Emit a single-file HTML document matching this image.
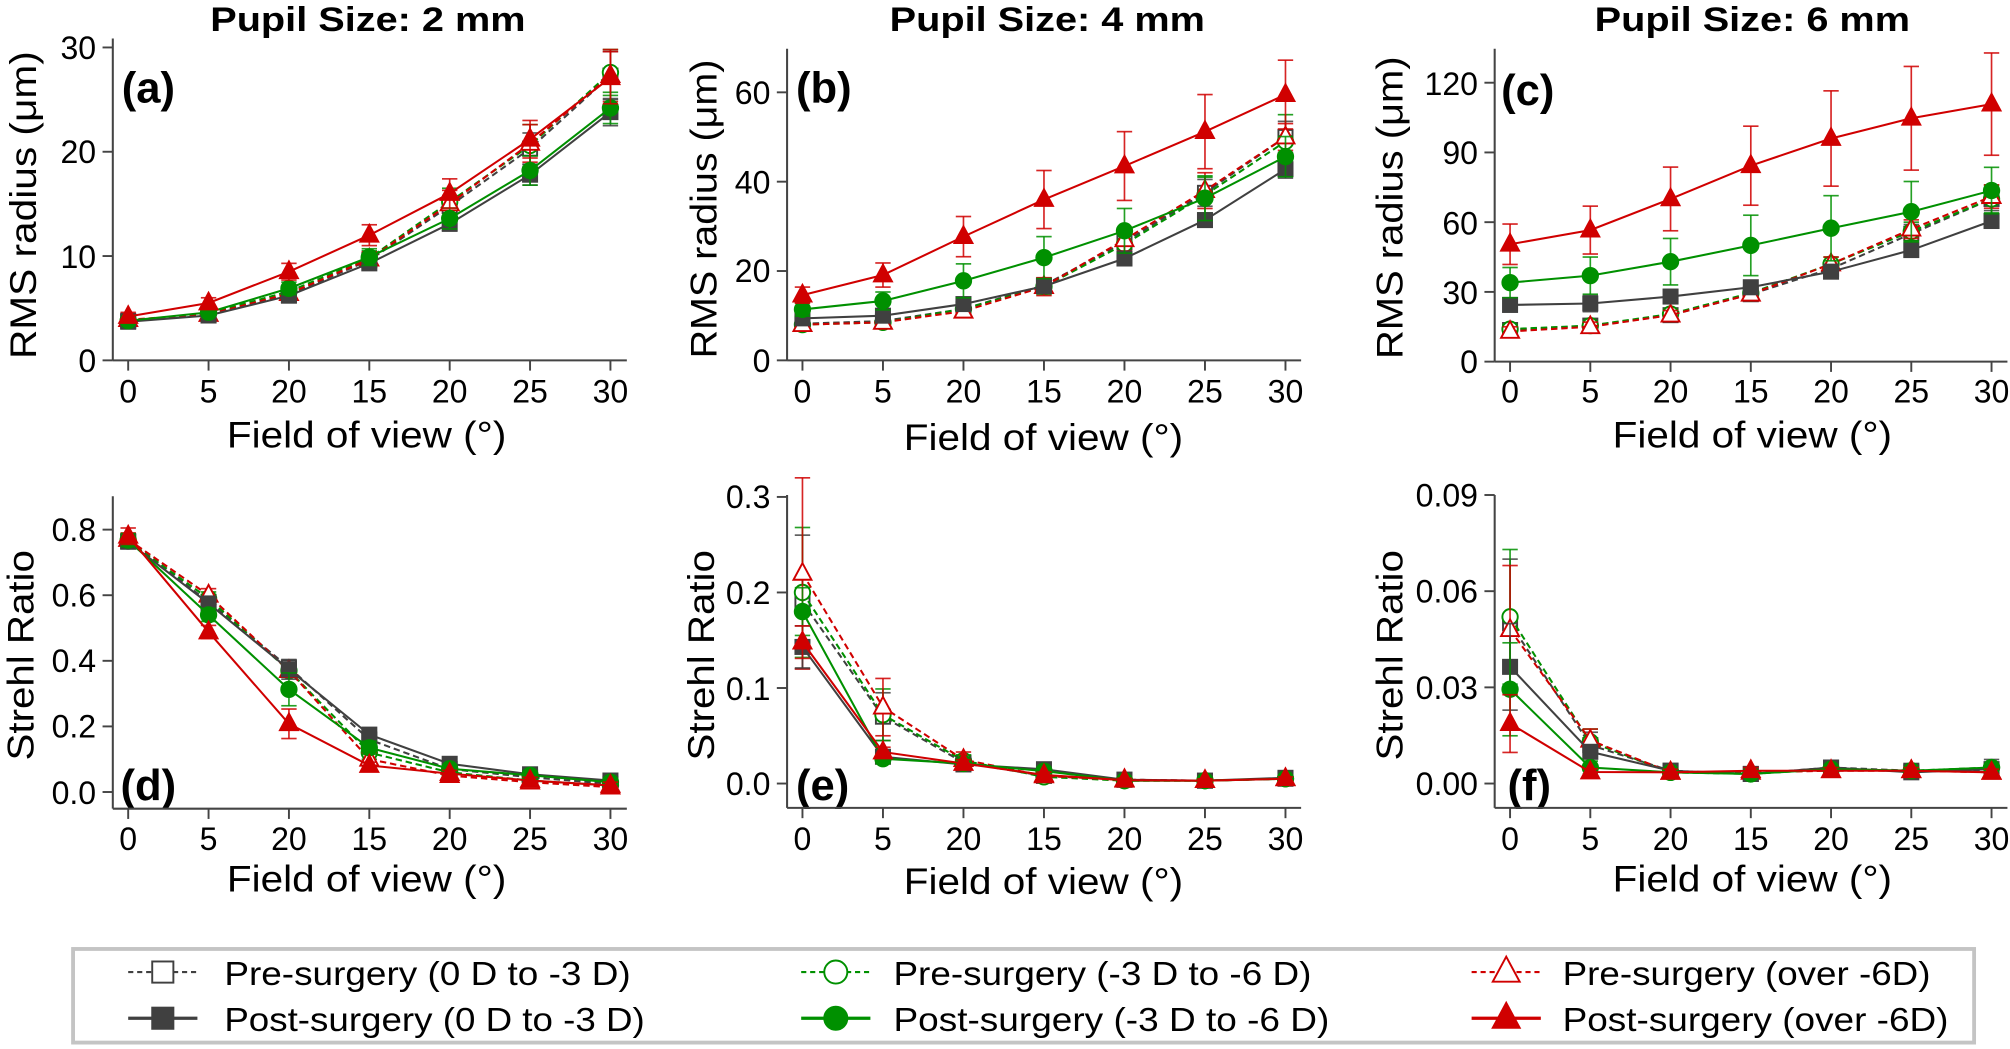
<!DOCTYPE html>
<html><head><meta charset="utf-8"><style>
html,body{margin:0;padding:0;background:#fff;}
svg{display:block;}
text{font-family:"Liberation Sans",Arial,sans-serif;fill:#000;}
</style></head><body>
<svg id="s" xmlns="http://www.w3.org/2000/svg" width="2010" height="1049" viewBox="0 0 1568 818" preserveAspectRatio="none">
<g font-weight="bold" font-size="27">
<text x="287" y="24" text-anchor="middle" textLength="246" lengthAdjust="spacingAndGlyphs">Pupil Size: 2 mm</text>
<text x="817" y="24" text-anchor="middle" textLength="246" lengthAdjust="spacingAndGlyphs">Pupil Size: 4 mm</text>
<text x="1367" y="24" text-anchor="middle" textLength="246" lengthAdjust="spacingAndGlyphs">Pupil Size: 6 mm</text>
</g>
<g font-weight="bold" font-size="34">
<text x="95" y="80">(a)</text>
<text x="621" y="80">(b)</text>
<text x="1171" y="82">(c)</text>
<text x="94" y="624">(d)</text>
<text x="621" y="624">(e)</text>
<text x="1176" y="624">(f)</text>
</g>
<g font-size="29">
<text x="286" y="349" text-anchor="middle" textLength="218" lengthAdjust="spacingAndGlyphs">Field of view (°)</text>
<text x="814" y="351" text-anchor="middle" textLength="218" lengthAdjust="spacingAndGlyphs">Field of view (°)</text>
<text x="1367" y="349" text-anchor="middle" textLength="218" lengthAdjust="spacingAndGlyphs">Field of view (°)</text>
<text x="286" y="695" text-anchor="middle" textLength="218" lengthAdjust="spacingAndGlyphs">Field of view (°)</text>
<text x="814" y="697" text-anchor="middle" textLength="218" lengthAdjust="spacingAndGlyphs">Field of view (°)</text>
<text x="1367" y="695" text-anchor="middle" textLength="218" lengthAdjust="spacingAndGlyphs">Field of view (°)</text>
<text transform="translate(28,160) rotate(-90)" text-anchor="middle" textLength="240" lengthAdjust="spacingAndGlyphs">RMS radius (μm)</text>
<text transform="translate(559,163) rotate(-90)" text-anchor="middle" textLength="233" lengthAdjust="spacingAndGlyphs">RMS radius (μm)</text>
<text transform="translate(1094,162) rotate(-90)" text-anchor="middle" textLength="236" lengthAdjust="spacingAndGlyphs">RMS radius (μm)</text>
<text transform="translate(26,511) rotate(-90)" text-anchor="middle" textLength="164" lengthAdjust="spacingAndGlyphs">Strehl Ratio</text>
<text transform="translate(557,511) rotate(-90)" text-anchor="middle" textLength="164" lengthAdjust="spacingAndGlyphs">Strehl Ratio</text>
<text transform="translate(1094,511) rotate(-90)" text-anchor="middle" textLength="164" lengthAdjust="spacingAndGlyphs">Strehl Ratio</text>
</g>
<g font-size="25" text-anchor="end">
<text x="75" y="46">30</text><text x="75" y="127">20</text><text x="75" y="209">10</text><text x="75" y="290">0</text>
<text x="601" y="81">60</text><text x="601" y="151">40</text><text x="601" y="220">20</text><text x="601" y="290">0</text>
<text x="1153" y="74">120</text><text x="1153" y="128">90</text><text x="1153" y="183">60</text><text x="1153" y="237">30</text><text x="1153" y="291">0</text>
<text x="75" y="422">0.8</text><text x="75" y="473">0.6</text><text x="75" y="524">0.4</text><text x="75" y="575">0.2</text><text x="75" y="627">0.0</text>
<text x="601" y="396">0.3</text><text x="601" y="471">0.2</text><text x="601" y="546">0.1</text><text x="601" y="620">0.0</text>
<text x="1153" y="395">0.09</text><text x="1153" y="470">0.06</text><text x="1153" y="545">0.03</text><text x="1153" y="620">0.00</text>
</g>
<g font-size="25" text-anchor="middle">
<g transform="translate(100,314)"><text x="0">0</text><text x="62.7">5</text><text x="125.4">20</text><text x="188.1">15</text><text x="250.8">20</text><text x="313.5">25</text><text x="376.2">30</text></g>
<g transform="translate(626,314)"><text x="0">0</text><text x="62.8">5</text><text x="125.6">20</text><text x="188.4">15</text><text x="251.2">20</text><text x="314">25</text><text x="376.8">30</text></g>
<g transform="translate(1178,314)"><text x="0">0</text><text x="62.6">5</text><text x="125.2">20</text><text x="187.8">15</text><text x="250.4">20</text><text x="313">25</text><text x="375.6">30</text></g>
<g transform="translate(100,663)"><text x="0">0</text><text x="62.7">5</text><text x="125.4">20</text><text x="188.1">15</text><text x="250.8">20</text><text x="313.5">25</text><text x="376.2">30</text></g>
<g transform="translate(626,663)"><text x="0">0</text><text x="62.8">5</text><text x="125.6">20</text><text x="188.4">15</text><text x="251.2">20</text><text x="314">25</text><text x="376.8">30</text></g>
<g transform="translate(1178,663)"><text x="0">0</text><text x="62.6">5</text><text x="125.2">20</text><text x="187.8">15</text><text x="250.4">20</text><text x="313">25</text><text x="375.6">30</text></g>
</g>
<rect x="57" y="740" width="1483" height="73" fill="none" stroke="#c4c4c4" stroke-width="3"/>
<g font-size="26">
<text x="175" y="768" textLength="317" lengthAdjust="spacingAndGlyphs">Pre-surgery (0 D to -3 D)</text>
<text x="175" y="804" textLength="328" lengthAdjust="spacingAndGlyphs">Post-surgery (0 D to -3 D)</text>
<text x="697" y="768" textLength="326" lengthAdjust="spacingAndGlyphs">Pre-surgery (-3 D to -6 D)</text>
<text x="697" y="804" textLength="340" lengthAdjust="spacingAndGlyphs">Post-surgery (-3 D to -6 D)</text>
<text x="1219" y="768" textLength="287" lengthAdjust="spacingAndGlyphs">Pre-surgery (over -6D)</text>
<text x="1219" y="804" textLength="301" lengthAdjust="spacingAndGlyphs">Post-surgery (over -6D)</text>
</g>
<g id="g"></g>
</svg>
<script>
var NS="http://www.w3.org/2000/svg",G=document.getElementById("g");
function el(n,a){var e=document.createElementNS(NS,n);for(var k in a)e.setAttribute(k,a[k]);G.appendChild(e);return e;}
var GR="#404040",GN="#009000",RD="#d00000";
function marker(m,x,y,c,f,s){s=s||1;var fill=f?c:"#fff";
 if(m=="sq")el("rect",{x:x-5.5*s,y:y-5.5*s,width:11*s,height:11*s,fill:fill,stroke:c,"stroke-width":1.5});
 else if(m=="ci")el("circle",{cx:x,cy:y,r:6*s,fill:fill,stroke:c,"stroke-width":1.5});
 else el("polygon",{points:(x)+","+(y-8*s)+" "+(x-7*s)+","+(y+5*s)+" "+(x+7*s)+","+(y+5*s),fill:fill,stroke:c,"stroke-width":1.5});}
var P=[
{ax:88,x0:100,st:62.7,yb:281,top:30,right:489,y0:281,k:244/30,ticks:[0,10,20,30],S:[
[GR,1,"sq",[3.8,4.4,6.3,9.6,14.8,20.3,27.3],[.3,.3,.4,.6,1,1.5,2.3]],
[GN,1,"ci",[3.8,4.5,6.6,9.8,15.2,20.6,27.6],[.3,.3,.5,.7,1.3,2,2.2]],
[RD,1,"tr",[3.9,4.4,6.4,9.7,15,20.8,27.3],[.3,.3,.5,.7,1.3,1.8,2.5]],
[GR,0,"sq",[3.7,4.3,6.2,9.3,13.1,17.8,23.8],[.2,.3,.4,.5,.7,1,1.3]],
[GN,0,"ci",[3.8,4.6,6.9,9.9,13.6,18.2,24.2],[.3,.3,.6,.8,1,1.4,1.5]],
[RD,0,"tr",[4.2,5.5,8.5,12,16,21.2,27.1],[.4,.5,.8,1,1.4,1.8,2.5]]]},
{ax:614,x0:626,st:62.8,yb:281,top:38,right:1015,y0:281,k:209/60,ticks:[0,20,40,60],S:[
[GR,1,"sq",[8.2,8.8,11.5,16.8,26.5,37.5,50],[1,1,1,1.5,2,3,3.5]],
[GN,1,"ci",[8,8.5,11.5,16.5,26,37,49],[1,1,1.2,1.8,2.5,4,6]],
[RD,1,"tr",[8,8.5,11,16.5,27,38,50],[1,1,1,2,2.5,4,3]],
[GR,0,"sq",[9.4,10,12.6,16.6,22.8,31.4,42.8],[1,1,1,1.2,1.5,1.5,2]],
[GN,0,"ci",[11.4,13.3,17.8,23,29,36.3,45.6],[1.5,2,3.8,4.7,5,5,4.5]],
[RD,0,"tr",[14.6,19.1,27.7,36,43.5,51.2,59.5],[1.8,2.7,4.5,6.5,7.7,8.3,7.7]]]},
{ax:1166,x0:1178,st:62.6,yb:282,top:38,right:1566,y0:282,k:217.5/120,ticks:[0,30,60,90,120],S:[
[GR,1,"sq",[13.6,15.5,20,29,40,55,70],[2,2,2,2,3,4,5]],
[GN,1,"ci",[14,15.5,20.5,29.5,42,56,70],[2,2,2,2.5,3,4,6]],
[RD,1,"tr",[13,15,20,29,42,57,71],[2,2,2,2.5,3,4,5]],
[GR,0,"sq",[24.4,25,28,32,38.7,48,60.5],[3,3.5,3,3,3,3,2.5]],
[GN,0,"ci",[34,37,43,50,57.4,64.5,73.6],[6.5,8,10,13,14,13,10]],
[RD,0,"tr",[50.5,56.6,70,84.3,96,104.7,110.8],[8.7,10.3,13.7,17,20.5,22.3,22]]]},
{ax:88,x0:100,st:62.7,yb:630.6,top:387,right:489,y0:617.6,k:255.75,ticks:[0,.2,.4,.6,.8],S:[
[GR,1,"sq",[.765,.58,.38,.16,.07,.045,.025],[.02,.02,.02,.02,.01,.01,.01]],
[GN,1,"ci",[.765,.59,.37,.12,.06,.035,.02],[.02,.02,.02,.02,.01,.01,.01]],
[RD,1,"tr",[.77,.6,.37,.1,.05,.03,.015],[.02,.02,.02,.02,.01,.01,.01]],
[GR,0,"sq",[.763,.575,.374,.175,.086,.054,.035],[.02,.02,.03,.02,.01,.01,.01]],
[GN,0,"ci",[.768,.54,.313,.135,.071,.051,.03],[.02,.02,.05,.02,.01,.01,.01]],
[RD,0,"tr",[.78,.488,.208,.081,.056,.035,.02],[.025,.02,.045,.01,.01,.01,.01]]]},
{ax:614,x0:626,st:62.8,yb:630,top:386,right:1015,y0:611,k:745,ticks:[0,.1,.2,.3],S:[
[GR,1,"sq",[.19,.07,.022,.008,.004,.003,.005],[.07,.025,.005,.003,.002,.002,.002]],
[GN,1,"ci",[.2,.072,.024,.007,.003,.003,.005],[.068,.027,.006,.003,.002,.002,.002]],
[RD,1,"tr",[.22,.08,.025,.008,.004,.003,.005],[.1,.03,.008,.003,.002,.002,.002]],
[GR,0,"sq",[.143,.028,.02,.015,.004,.003,.006],[.022,.005,.004,.003,.002,.002,.002]],
[GN,0,"ci",[.18,.026,.021,.013,.003,.003,.005],[.025,.005,.004,.003,.002,.002,.002]],
[RD,0,"tr",[.148,.033,.021,.009,.0035,.003,.005],[.017,.005,.004,.003,.002,.002,.002]]]},
{ax:1166,x0:1178,st:62.6,yb:630,top:386,right:1566,y0:611,k:2500,ticks:[0,.03,.06,.09],S:[
[GR,1,"sq",[.05,.012,.004,.003,.005,.004,.004],[.02,.004,.001,.001,.001,.001,.001]],
[GN,1,"ci",[.052,.013,.0035,.003,.0045,.004,.005],[.021,.004,.001,.001,.001,.001,.001]],
[RD,1,"tr",[.048,.0135,.0035,.0035,.004,.004,.0035],[.02,.0035,.001,.001,.001,.001,.001]],
[GR,0,"sq",[.0364,.0099,.004,.003,.005,.0035,.0045],[.0135,.002,.001,.001,.001,.001,.003]],
[GN,0,"ci",[.0294,.005,.0035,.003,.0045,.004,.005],[.0145,.002,.001,.001,.001,.001,.001]],
[RD,0,"tr",[.0187,.0036,.0035,.004,.004,.004,.0035],[.009,.001,.001,.001,.001,.001,.001]]]}];
P.forEach(function(p){
 el("line",{x1:p.ax,y1:p.top,x2:p.ax,y2:p.yb,stroke:"#444","stroke-width":1.6});
 el("line",{x1:p.ax,y1:p.yb,x2:p.right,y2:p.yb,stroke:"#444","stroke-width":1.6});
 p.ticks.forEach(function(t){var y=p.y0-t*p.k;el("line",{x1:p.ax-8,y1:y,x2:p.ax,y2:y,stroke:"#444","stroke-width":1.5});});
 for(var i=0;i<7;i++){var x=p.x0+i*p.st;el("line",{x1:x,y1:p.yb,x2:x,y2:p.yb+8,stroke:"#444","stroke-width":1.5});}
 p.S.forEach(function(s){
  var pts=s[3].map(function(v,i){return [p.x0+i*p.st,p.y0-v*p.k];});
  s[3].forEach(function(v,i){var x=pts[i][0],e=s[4][i]*p.k,y=pts[i][1];
   el("line",{x1:x,y1:y-e,x2:x,y2:y+e,stroke:s[0],"stroke-width":1.3,opacity:.85});
   el("line",{x1:x-6,y1:y-e,x2:x+6,y2:y-e,stroke:s[0],"stroke-width":1.3,opacity:.85});
   el("line",{x1:x-6,y1:y+e,x2:x+6,y2:y+e,stroke:s[0],"stroke-width":1.3,opacity:.85});});
  var a={points:pts.map(function(q){return q.join(",");}).join(" "),fill:"none",stroke:s[0],"stroke-width":1.6};
  if(s[1])a["stroke-dasharray"]="5,3";
  el("polyline",a);
  pts.forEach(function(q){marker(s[2],q[0],q[1],s[0],!s[1]);});
 });
});
var L=[[127,GR,"sq"],[652,GN,"ci"],[1175,RD,"tr"]];
L.forEach(function(l){
 el("line",{x1:l[0]-27,y1:758,x2:l[0]+27,y2:758,stroke:l[1],"stroke-width":1.6,"stroke-dasharray":"4,3"});
 marker(l[2],l[0],758,l[1],false,1.5);
 el("line",{x1:l[0]-27,y1:794,x2:l[0]+27,y2:794,stroke:l[1],"stroke-width":2.5});
 marker(l[2],l[0],794,l[1],true,1.5);
});
</script>
</body></html>
